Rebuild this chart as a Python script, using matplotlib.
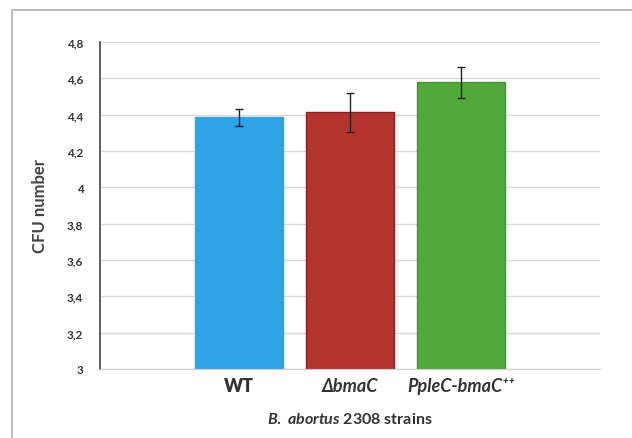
import numpy as np
import matplotlib
matplotlib.use('Agg')
import matplotlib.pyplot as plt
from matplotlib.patches import Rectangle

plt.rcParams['font.family'] = ['Lato', 'DejaVu Sans']
plt.rcParams['mathtext.fontset'] = 'custom'
plt.rcParams['mathtext.it'] = 'Lato:italic:bold'
plt.rcParams['mathtext.rm'] = 'Lato:bold'

# Data
strains = ['WT', '\u0394bmaC', 'PpleC-bmaC\u207a\u207a']
cfu = [4.385, 4.413, 4.578]
cfu_err = [0.046, 0.107, 0.086]
bar_colors = ['#2ea3e6', '#b5332e', '#52a83a']
edge_colors = ['#2ea3e6', '#8e1f1f', '#3f962a']
yticks = [3, 3.2, 3.4, 3.6, 3.8, 4, 4.2, 4.4, 4.6, 4.8]
ytick_labels = ['3', '3,2', '3,4', '3,6', '3,8', '4', '4,2', '4,4', '4,6', '4,8']

fig = plt.figure(figsize=(6.32, 4.39), dpi=100)
# light frame round the chart
fig.patches.append(Rectangle((12 / 632, -0.1), 1.2, 1 - 11 / 439 + 0.1,
                             transform=fig.transFigure, fill=False,
                             edgecolor='#bdbdbd', linewidth=1.5))
ax = fig.add_axes([100 / 632, 1 - 370 / 439, 500 / 632, 327 / 439])

x = np.arange(len(strains))
ax.bar(x, cfu, width=0.79, color=bar_colors, edgecolor=edge_colors,
       linewidth=1, zorder=2)
ax.errorbar(x, cfu, yerr=cfu_err, fmt='none', ecolor='#222222',
            elinewidth=1, capsize=3, capthick=1, zorder=3)

ax.set_xlim(-1.25, 3.25)
ax.set_ylim(3, 4.8)
ax.set_yticks(yticks)
ax.set_yticklabels(ytick_labels, fontsize=8.5, fontweight='bold', color='#333333')
ax.yaxis.grid(True, color='#d9d9d9', linewidth=1, zorder=0)
ax.set_axisbelow(True)
ax.tick_params(axis='y', length=0, pad=12)
ax.tick_params(axis='x', length=0, pad=6)

ax.set_xticks(x)
ax.set_xticklabels(strains, fontsize=13, fontweight='heavy', color='#333333')
for lbl in ax.get_xticklabels()[1:]:
    lbl.set_style('italic')
    lbl.set_fontweight('bold')

for s in ['top', 'right']:
    ax.spines[s].set_visible(False)
ax.spines['bottom'].set_color('#d0d0d0')
ax.spines['left'].set_color('#444444')
ax.spines['left'].set_linewidth(1.2)

ax.set_ylabel('CFU number', fontsize=12, fontweight='bold', color='#444444', labelpad=14)
ax.set_xlabel(r'$\it{B.}$ $\it{abortus}$ 2308 strains', fontsize=11.5, fontweight='bold',
              color='#333333', labelpad=12)

fig.savefig('out.png', dpi=100)
